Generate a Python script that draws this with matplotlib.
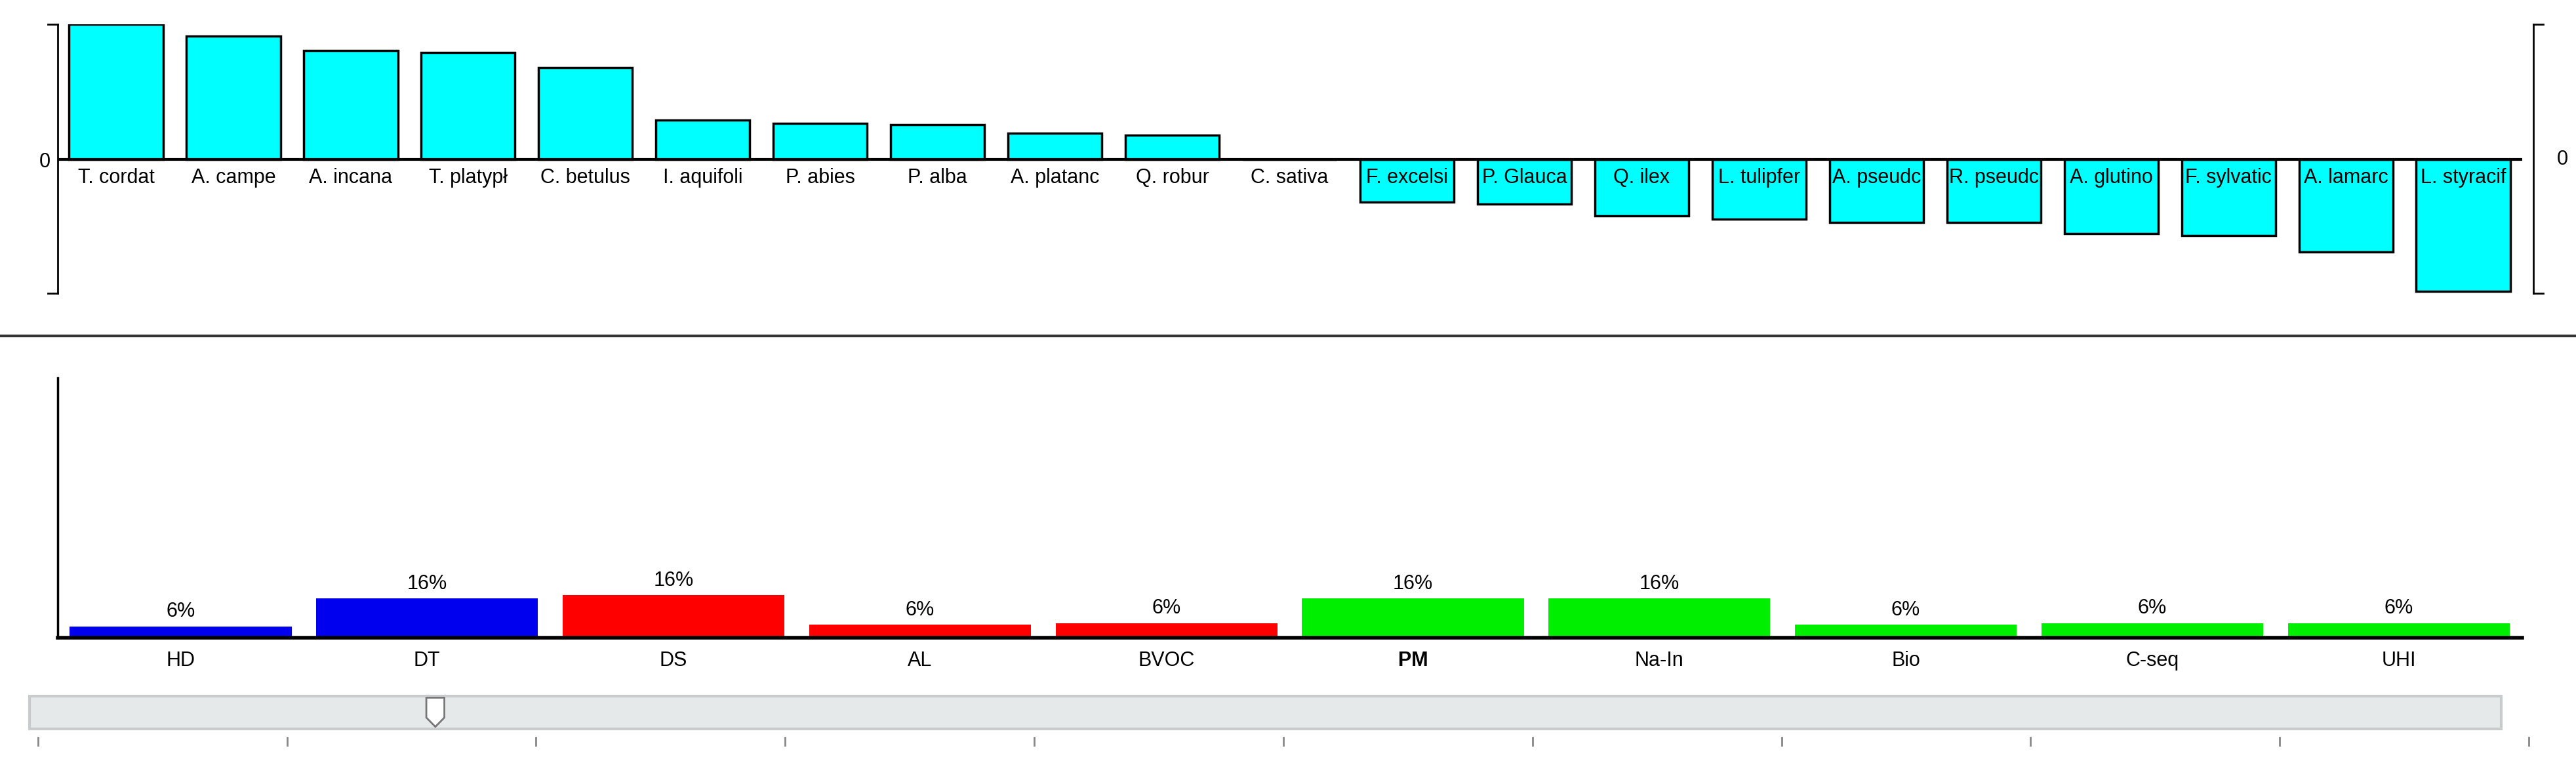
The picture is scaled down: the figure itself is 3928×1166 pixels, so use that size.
import matplotlib
matplotlib.use("Agg")
import matplotlib.pyplot as plt
from matplotlib.patches import Polygon, Rectangle
from matplotlib.lines import Line2D

plt.rcParams['font.family'] = ['Liberation Sans', 'DejaVu Sans']

# top panel: species scores
species = ["T. cordat", "A. campe", "A. incana", "T. platypł", "C. betulus", "I. aquifoli",
           "P. abies", "P. alba", "A. platanc", "Q. robur", "C. sativa", "F. excelsi",
           "P. Glauca", "Q. ilex", "L. tulipfer", "A. pseudc", "R. pseudc", "A. glutino",
           "F. sylvatic", "A. lamarc", "L. styracif"]
scores = [82, 75, 66, 65, 56, 24, 22, 21, 16, 15, 0, -26, -27, -34, -36, -38, -38,
          -45, -46, -56, -80]

# bottom panel: criteria weights
criteria = ["HD", "DT", "DS", "AL", "BVOC", "PM", "Na-In", "Bio", "C-seq", "UHI"]
heights = [7, 24, 26, 8, 9, 24, 24, 8, 9, 9]
pct_labels = ["6%", "16%", "16%", "6%", "6%", "16%", "16%", "6%", "6%", "6%"]
colors = ["#0000ee", "#0000ee", "#ff0000", "#ff0000", "#ff0000",
          "#00ee00", "#00ee00", "#00ee00", "#00ee00", "#00ee00"]

fig = plt.figure(figsize=(39.28, 11.66), dpi=100)
fs = 22

# ---- top axes
ax = fig.add_axes([0.0223, 0.617, 0.9567, 0.351])
x = range(len(species))
ax.bar(x, scores, width=0.8, color="#00ffff", edgecolor="black", linewidth=2.5)
ax.set_xlim(-0.5, len(species) - 0.5)
ax.set_ylim(-81, 82)
ax.axhline(0, color="black", lw=3)
for s in ["top", "bottom", "right"]:
    ax.spines[s].set_visible(False)
ax.spines["left"].set_linewidth(2)
ax.set_xticks([])
ax.set_yticks([0])
ax.set_yticklabels(["0"], fontsize=fs)
ax.tick_params(axis="y", length=0, pad=8)
for i, name in enumerate(species):
    ax.text(i, -5, name, ha="center", va="top", fontsize=fs)
# bracket caps
for yv in (-81, 82):
    ax.plot([-0.5, -0.58], [yv, yv], color="black", lw=2, clip_on=False)
ax.plot([len(species) - 0.5 + 0.1] * 2, [-81, 82], color="black", lw=2, clip_on=False)
for yv in (-81, 82):
    ax.plot([len(species) - 0.4, len(species) - 0.32], [yv, yv], color="black", lw=2, clip_on=False)
ax.text(len(species) - 0.2, 0, "0", ha="left", va="center", fontsize=fs)

# separator
fig.add_artist(Line2D([0, 1], [0.561, 0.561], color="#333333", lw=3))

# ---- bottom axes
bx = fig.add_axes([0.0223, 0.166, 0.9567, 0.34])
xb = range(len(criteria))
bx.bar(xb, heights, width=0.9, color=colors)
bx.set_xlim(-0.5, len(criteria) - 0.5)
bx.set_ylim(0, 158)
for s in ["top", "right"]:
    bx.spines[s].set_visible(False)
bx.spines["left"].set_linewidth(2.5)
bx.spines["bottom"].set_linewidth(4)
bx.set_yticks([])
bx.set_xticks(list(xb))
bx.set_xticklabels(criteria, fontsize=fs)
bx.tick_params(axis="x", length=0, pad=14)
bx.get_xticklabels()[5].set_fontweight("bold")
for i, (h, lab) in enumerate(zip(heights, pct_labels)):
    bx.text(i, h + 3, lab, ha="center", va="bottom", fontsize=fs)

# ---- slider
fig.add_artist(Rectangle((0.0115, 0.047), 0.9595, 0.043, facecolor="#e6e9ea",
                         edgecolor="#c8cccd", lw=3, transform=fig.transFigure))
tx, tw = 0.169, 0.0035
thumb = Polygon([(tx - tw, 0.088), (tx + tw, 0.088), (tx + tw, 0.062), (tx, 0.05),
                 (tx - tw, 0.062)], closed=True, facecolor="white", edgecolor="#777777",
                lw=2, transform=fig.transFigure)
fig.add_artist(thumb)
for k in range(11):
    xt = 0.0147 + k * 0.0967
    fig.add_artist(Line2D([xt, xt], [0.026, 0.036], color="#888888", lw=2))

fig.savefig("out.png", dpi=100)
